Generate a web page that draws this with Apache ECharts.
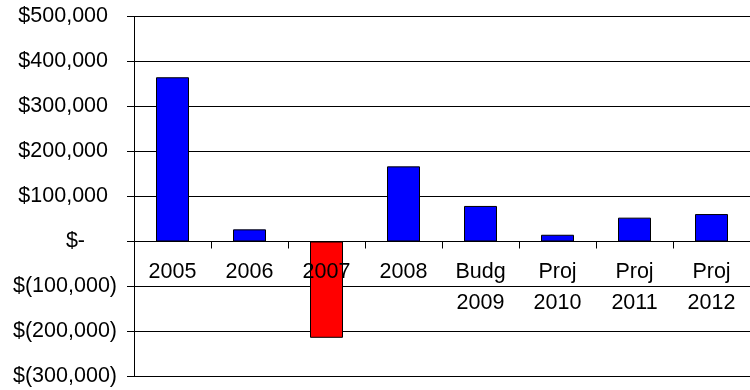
<!DOCTYPE html>
<html>
<head>
<meta charset="utf-8">
<script src="https://cdn.jsdelivr.net/npm/echarts@6/dist/echarts.min.js"></script>
<style>
  html, body { margin: 0; padding: 0; background: #fff; }
  #chart { width: 750px; height: 390px; }
</style>
</head>
<body>
<div id="chart"></div>
<script>
// Yearly net results: actuals, budget and projections
const categories = ['2005', '2006', '2007', '2008', 'Budg\n2009', 'Proj\n2010', 'Proj\n2011', 'Proj\n2012'];
const values = [365000, 27000, -214000, 167000, 79000, 15000, 53000, 61000];

const yMin = -300000;
const yMax = 500000;
const yStep = 100000;

const FONT = '"Liberation Sans", Arial, sans-serif';
const FS = 21.5;

const GRID_TOP = 16.5;
const GRID_BOTTOM = 13.5;
const HEIGHT = 390;
// Lift the category axis (line, ticks and labels) up to the zero value line
const zeroOffset = -((0 - yMin) / (yMax - yMin)) * (HEIGHT - GRID_TOP - GRID_BOTTOM);

function money(v) {
  if (v === 0) return '{zero|$-}';
  const s = Math.abs(v).toLocaleString('en-US');
  return v < 0 ? '{neg|$(' + s + ')}' : '{pos|$' + s + '}';
}

const chart = echarts.init(document.getElementById('chart'), null, { renderer: 'canvas' });
chart.setOption({
  animation: false,
  backgroundColor: '#ffffff',
  grid: { left: 134, right: 0, top: GRID_TOP, bottom: GRID_BOTTOM, containLabel: false, outerBoundsMode: 'none' },
  xAxis: {
    type: 'category',
    data: categories,
    position: 'bottom',
    offset: zeroOffset,
    axisLine: { onZero: false, lineStyle: { color: '#000', width: 1 } },
    axisTick: { show: true, length: 7, inside: false, lineStyle: { color: '#000' } },
    axisLabel: {
      color: '#000', fontFamily: FONT, fontSize: FS, lineHeight: 31,
      margin: 15, interval: 0
    },
    splitLine: { show: false },
    z: 3
  },
  yAxis: {
    type: 'value',
    min: yMin, max: yMax, interval: yStep,
    axisLine: { show: true, lineStyle: { color: '#000', width: 1 } },
    axisTick: { show: true, length: 7, lineStyle: { color: '#000' } },
    splitLine: { show: true, lineStyle: { color: '#000', width: 1 } },
    axisLabel: {
      margin: 17,
      formatter: money,
      color: '#000', fontFamily: FONT, fontSize: FS,
      rich: {
        pos: { fontFamily: FONT, fontSize: FS, color: '#000', padding: [0, 9, 0, 0] },
        neg: { fontFamily: FONT, fontSize: FS, color: '#000' },
        zero: { fontFamily: FONT, fontSize: FS, color: '#000', padding: [0, 32, 0, 0] }
      }
    }
  },
  series: [{
    type: 'bar',
    data: values,
    barWidth: 33,
    z: 2,
    itemStyle: {
      color: function (p) { return p.value < 0 ? '#ff0000' : '#0000ff'; },
      borderColor: '#000',
      borderWidth: 1
    }
  }]
});
</script>
</body>
</html>
